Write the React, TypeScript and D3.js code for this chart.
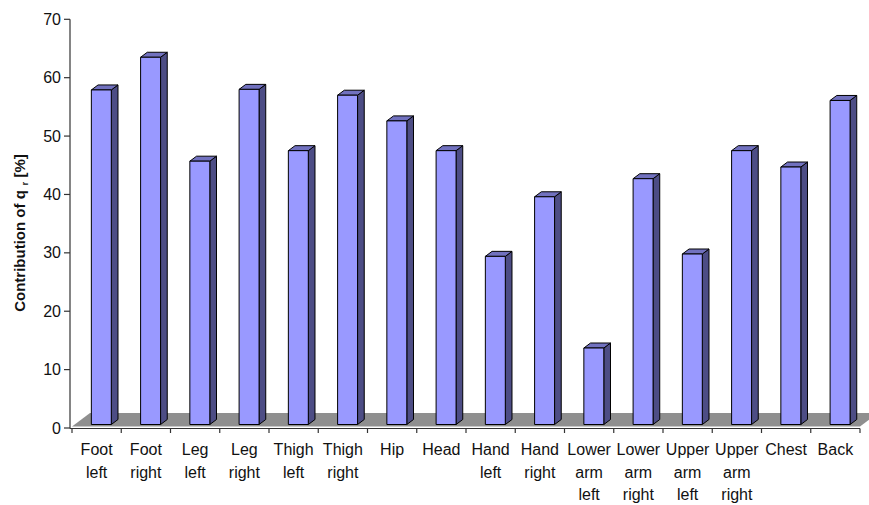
import React from "react";
import * as d3 from "d3";

// Body segments and their contribution of q_r (in %)
const categories = [
  "Foot left", "Foot right", "Leg left", "Leg right", "Thigh left", "Thigh right",
  "Hip", "Head", "Hand left", "Hand right", "Lower arm left", "Lower arm right",
  "Upper arm left", "Upper arm right", "Chest", "Back",
];
const contribution = [
  57.3, 62.9, 45.1, 57.4, 46.9, 56.4, 52.0, 46.9, 28.8, 39.0, 13.1, 42.1, 29.2, 46.9, 44.1, 55.5,
];
const yTicks = [0, 10, 20, 30, 40, 50, 60, 70];

const W = 869;
const H = 505;
const FONT = "'Liberation Sans', Arial, sans-serif";

// oblique projection of the depth axis
const floorDepth = { dx: 18, dy: -13.5 };
const barFront = { dx: 4.7, dy: -3.5 };
const barDepth = { dx: 6.7, dy: -5 };

export default function App() {
  const x = d3.scaleBand<string>().domain(categories).range([72, 860]).padding(0);
  const y = d3.scaleLinear().domain([0, 70]).range([428, 19.3]);
  const barW = x.bandwidth() * 0.405;

  const y0 = y(0);
  const floorFrontY = y0 - 1.5;
  const [xl, xr] = x.range();
  const floorPts = [
    [xl, floorFrontY],
    [xl + floorDepth.dx, floorFrontY + floorDepth.dy],
    [xr + floorDepth.dx, floorFrontY + floorDepth.dy],
    [xr, floorFrontY],
  ];
  const pts = (p: number[][]) => p.map((q) => q.join(",")).join(" ");

  return (
    <svg
      width={W}
      height={H}
      style={{ position: "absolute", left: 0, top: 0, background: "#fff" }}
      fontFamily={FONT}
    >
      {/* floor */}
      <polygon points={pts(floorPts)} fill="#8f8f8f" />

      {/* bars */}
      {categories.map((c, i) => {
        const v = contribution[i];
        const cx = (x(c) as number) + x.bandwidth() / 2 + barFront.dx;
        const x0 = cx - barW / 2;
        const x1 = cx + barW / 2;
        const top = y(v) + barFront.dy;
        const bot = y0 + barFront.dy;
        const { dx, dy } = barDepth;
        return (
          <g key={c} stroke="#000" strokeWidth={1} strokeLinejoin="round">
            <polygon
              points={pts([[x1, top], [x1 + dx, top + dy], [x1 + dx, bot + dy], [x1, bot]])}
              fill="#4d4d85"
            />
            <polygon
              points={pts([[x0, top], [x0 + dx, top + dy], [x1 + dx, top + dy], [x1, top]])}
              fill="#7171bf"
            />
            <rect x={x0} y={top} width={barW} height={bot - top} fill="#9999ff" />
          </g>
        );
      })}

      {/* y axis */}
      <line x1={70} x2={70} y1={y(70)} y2={y0 + 0.5} stroke="#333" strokeWidth={1.2} />
      {yTicks.map((t) => (
        <g key={t}>
          <line x1={64} x2={70} y1={y(t)} y2={y(t)} stroke="#333" strokeWidth={1.2} />
          <text x={61} y={y(t)} dy="0.35em" textAnchor="end" fontSize={16} fill="#111">
            {t}
          </text>
        </g>
      ))}

      {/* x axis */}
      <line x1={70} x2={xr} y1={y0 + 0.5} y2={y0 + 0.5} stroke="#333" strokeWidth={1.2} />
      {[...categories.map((c) => x(c) as number), xr].map((px, i) => (
        <line key={i} x1={px} x2={px} y1={y0 + 0.5} y2={y0 + 5} stroke="#333" strokeWidth={1.2} />
      ))}
      {categories.map((c) => {
        const cx = (x(c) as number) + x.bandwidth() / 2;
        return (
          <text key={c} x={cx} y={455} textAnchor="middle" fontSize={16} fill="#111">
            {c.split(" ").map((w, j) => (
              <tspan key={j} x={cx} dy={j === 0 ? 0 : 22.5}>
                {w}
              </tspan>
            ))}
          </text>
        );
      })}

      {/* y axis title */}
      <text
        transform={`translate(25, 233) rotate(-90)`}
        textAnchor="middle"
        fontSize={15}
        fontWeight="bold"
        fill="#111"
      >
        Contribution of q
        <tspan fontSize={9} dy={3}>{"\u00a0 r"}</tspan>
        <tspan dy={-3}>{" [%]"}</tspan>
      </text>
    </svg>
  );
}
